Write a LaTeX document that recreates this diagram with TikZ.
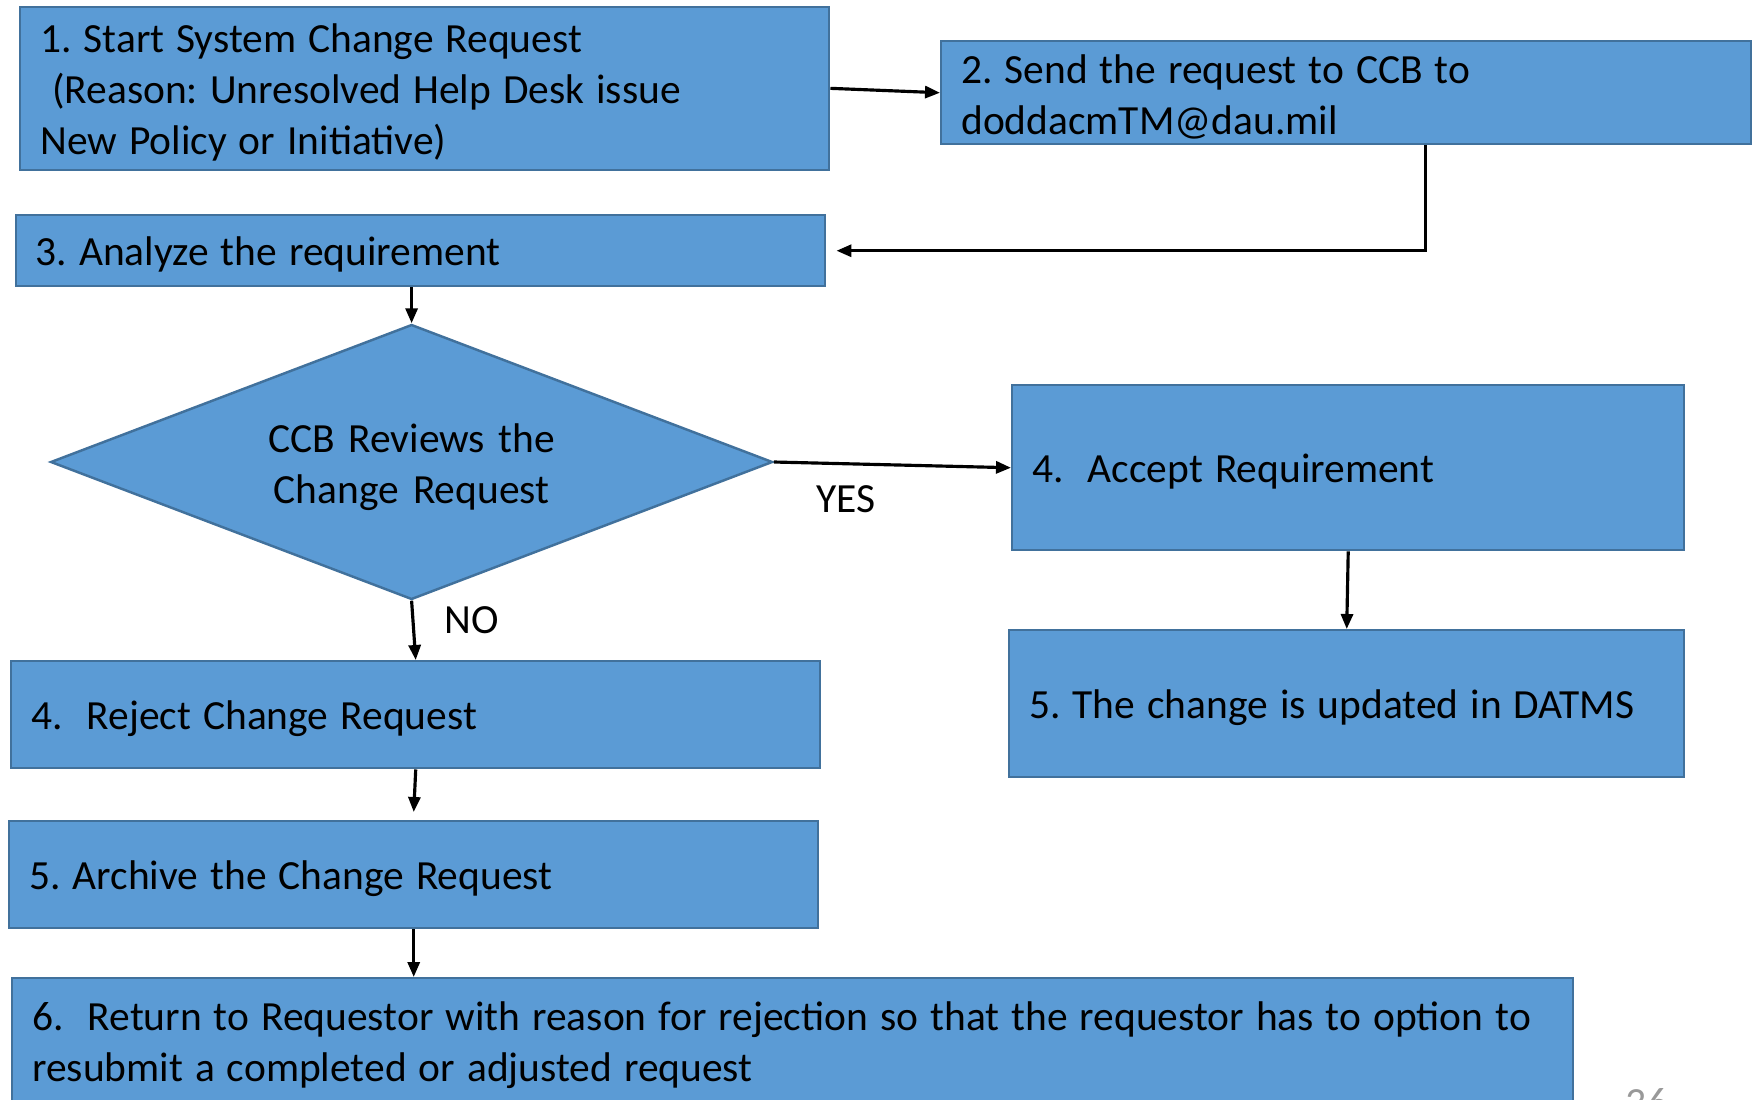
\documentclass[tikz,border=0pt]{standalone}
\usepackage{fontspec}
\setmainfont{Carlito}
\usetikzlibrary{shapes.geometric,arrows.meta}
\definecolor{boxfill}{HTML}{5B9BD5}
\definecolor{boxline}{HTML}{41719C}
\frenchspacing
\begin{document}
\begin{tikzpicture}[
    every node/.style={font=\fontsize{11.8}{14.6}\selectfont},
    stepbox/.style={draw=boxline,fill=boxfill,line width=0.7pt,inner xsep=0.2cm,
        align=left,anchor=north west,
        execute at begin node={\spaceskip=0.29em\relax},
        execute at end node={\endgraf\kern-0.08cm}},
    decision/.style={diamond,aspect=2.625,draw=boxline,fill=boxfill,line width=0.7pt,
        align=center,text width=4cm,
        execute at end node={\endgraf\kern-0.11cm},
        minimum width=7.22cm,minimum height=2.75cm,inner sep=0pt},
    arr/.style={line width=0.9pt,-{Triangle[length=1.5mm,width=1.2mm]}}]
        \path[use as bounding box,fill=white] (0,0) rectangle (17.54,-10.99);

        % left column
        \draw (0.19,-0.056) node(start)[stepbox,text width=7.69cm,minimum height=1.63cm]
                {1. Start System Change Request\\~(Reason: Unresolved Help Desk issue\\New Policy or Initiative)}
            (9.40,-0.40) node(send)[stepbox,text width=7.70cm,minimum height=1.03cm]
                {2. Send the request to CCB to\\doddacmTM@dau.mil}
            (0.145,-2.14) node(analyze)[stepbox,text width=7.695cm,minimum height=0.71cm]
                {3. Analyze the requirement}
            (4.116,-4.62) node(review)[decision] {CCB Reviews the\\Change Request}
            (0.10,-6.60) node(reject)[stepbox,text width=7.69cm,minimum height=1.07cm]
                {4.~~Reject Change Request}
            (0.08,-8.20) node(archive)[stepbox,text width=7.69cm,minimum height=1.07cm]
                {5. Archive the Change Request}
            (0.11,-9.77) node(return)[stepbox,text width=15.21cm,minimum height=1.26cm]
                {6.~~Return to Requestor with reason for rejection so that the requestor has to option to\\resubmit a completed or adjusted request};

        % right column
        \draw (10.11,-3.84) node(accept)[stepbox,text width=6.32cm,minimum height=1.65cm]
                {4.~~Accept Requirement}
            (10.08,-6.29) node(datms)[stepbox,text width=6.35cm,minimum height=1.47cm]
                {5. The change is updated in DATMS};

        \node(yes) at (8.46,-4.99) {YES};
        \node(no) at (4.72,-6.20) {NO};
        \node(page)[text=gray!80,anchor=base] at (16.47,-11.16) {36};

        \draw[arr] (start.east) -- (send.west);
        \draw[arr] ([xshift=0.79cm]send.south) |- ([xshift=0.1cm]analyze.east);
        \draw[arr] (analyze.south -| review.north) -- (review.north);
        \draw[arr] (review.east) -- (accept.west);
        \draw[arr] (review.south) -- (reject.north);
        \draw[arr] (accept.south) -- (datms.north);
        \draw[arr] (reject.south) -- ([yshift=0.08cm]archive.north);
        \draw[arr] (archive.south) -- (archive.south |- return.north);
    \end{tikzpicture}
\end{document}
